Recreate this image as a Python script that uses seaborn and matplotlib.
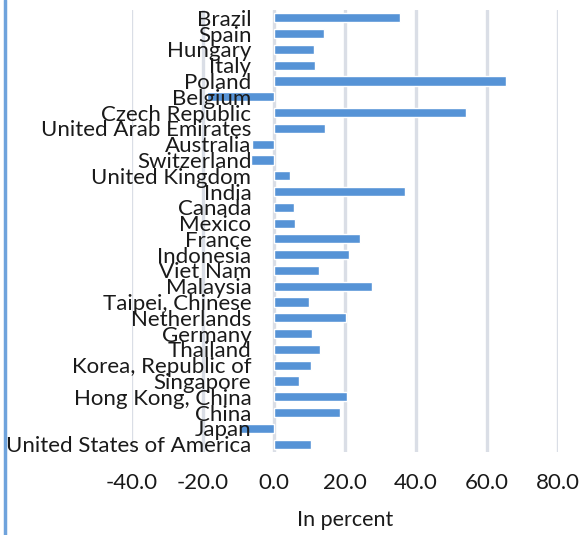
import matplotlib
matplotlib.use("Agg")
import matplotlib.pyplot as plt
import seaborn as sns
import pandas as pd
from matplotlib.lines import Line2D

# Economies, listed top to bottom
economies = [
    "Brazil", "Spain", "Hungary", "Italy", "Poland", "Belgium",
    "Czech Republic", "United Arab Emirates", "Australia", "Switzerland",
    "United Kingdom", "India", "Canada", "Mexico", "France", "Indonesia",
    "Viet Nam", "Malaysia", "Taipei, Chinese", "Netherlands", "Germany",
    "Thailand", "Korea, Republic of", "Singapore", "Hong Kong, China",
    "China", "Japan", "United States of America",
]
# Percentage change
change_pct = [
    35.6, 14.2, 11.4, 11.7, 65.5, -18.8,
    54.2, 14.5, -6.0, -6.4,
    4.6, 37.0, 5.8, 6.1, 24.4, 21.3,
    12.8, 27.7, 10.0, 20.4, 10.8,
    13.1, 10.6, 7.2, 20.7,
    18.7, -9.7, 10.6,
]
x_ticks = [-40, -20, 0, 20, 40, 60, 80]

df = pd.DataFrame({"economy": economies, "change": change_pct})

sns.set_theme(style="white")
plt.rcParams["font.family"] = ["Lato", "DejaVu Sans"]

fig = plt.figure(figsize=(5.8, 5.35), dpi=100)
ax = fig.add_axes([131.5 / 580, 1 - 452 / 535, 426.2 / 580, 442 / 535])

sns.barplot(data=df, x="change", y="economy", order=economies,
            color="#5693d6", saturation=1, width=0.58, ax=ax, zorder=1)

ax.set_xlim(-40, 80)
ax.set_xticks(x_ticks)
ax.set_xticklabels([f"{t:.1f}" for t in x_ticks], fontsize=16, color="#1a1a1a")
# vertical gridlines behind the bars; axis labels drawn above the bars
ax.grid(False)
ax.set_axisbelow(False)
for t in x_ticks:
    ax.axvline(t, color="#dadee6", linewidth=2.4, zorder=0)

for side in ["top", "right", "bottom"]:
    ax.spines[side].set_visible(False)
# category labels sit beside the zero line
ax.spines["left"].set_position(("data", 0))
ax.spines["left"].set_visible(False)
ax.tick_params(axis="y", length=0, pad=16, labelsize=16, labelcolor="#1a1a1a")
ax.tick_params(axis="x", length=0, pad=15)

ax.set_ylabel("")
ax.set_xlabel("In percent", fontsize=15.5, color="#1a1a1a")
ax.xaxis.set_label_coords((345 - 131.5) / 426.2, -(520 - 452) / 442)
ax.xaxis.label.set_va("center")

# outer frame edge on the left
fig.add_artist(Line2D([4.5 / 580, 4.5 / 580], [0, 1], transform=fig.transFigure,
                      color="#6fa3dc", linewidth=2.5))

fig.savefig("out.png", dpi=100)
